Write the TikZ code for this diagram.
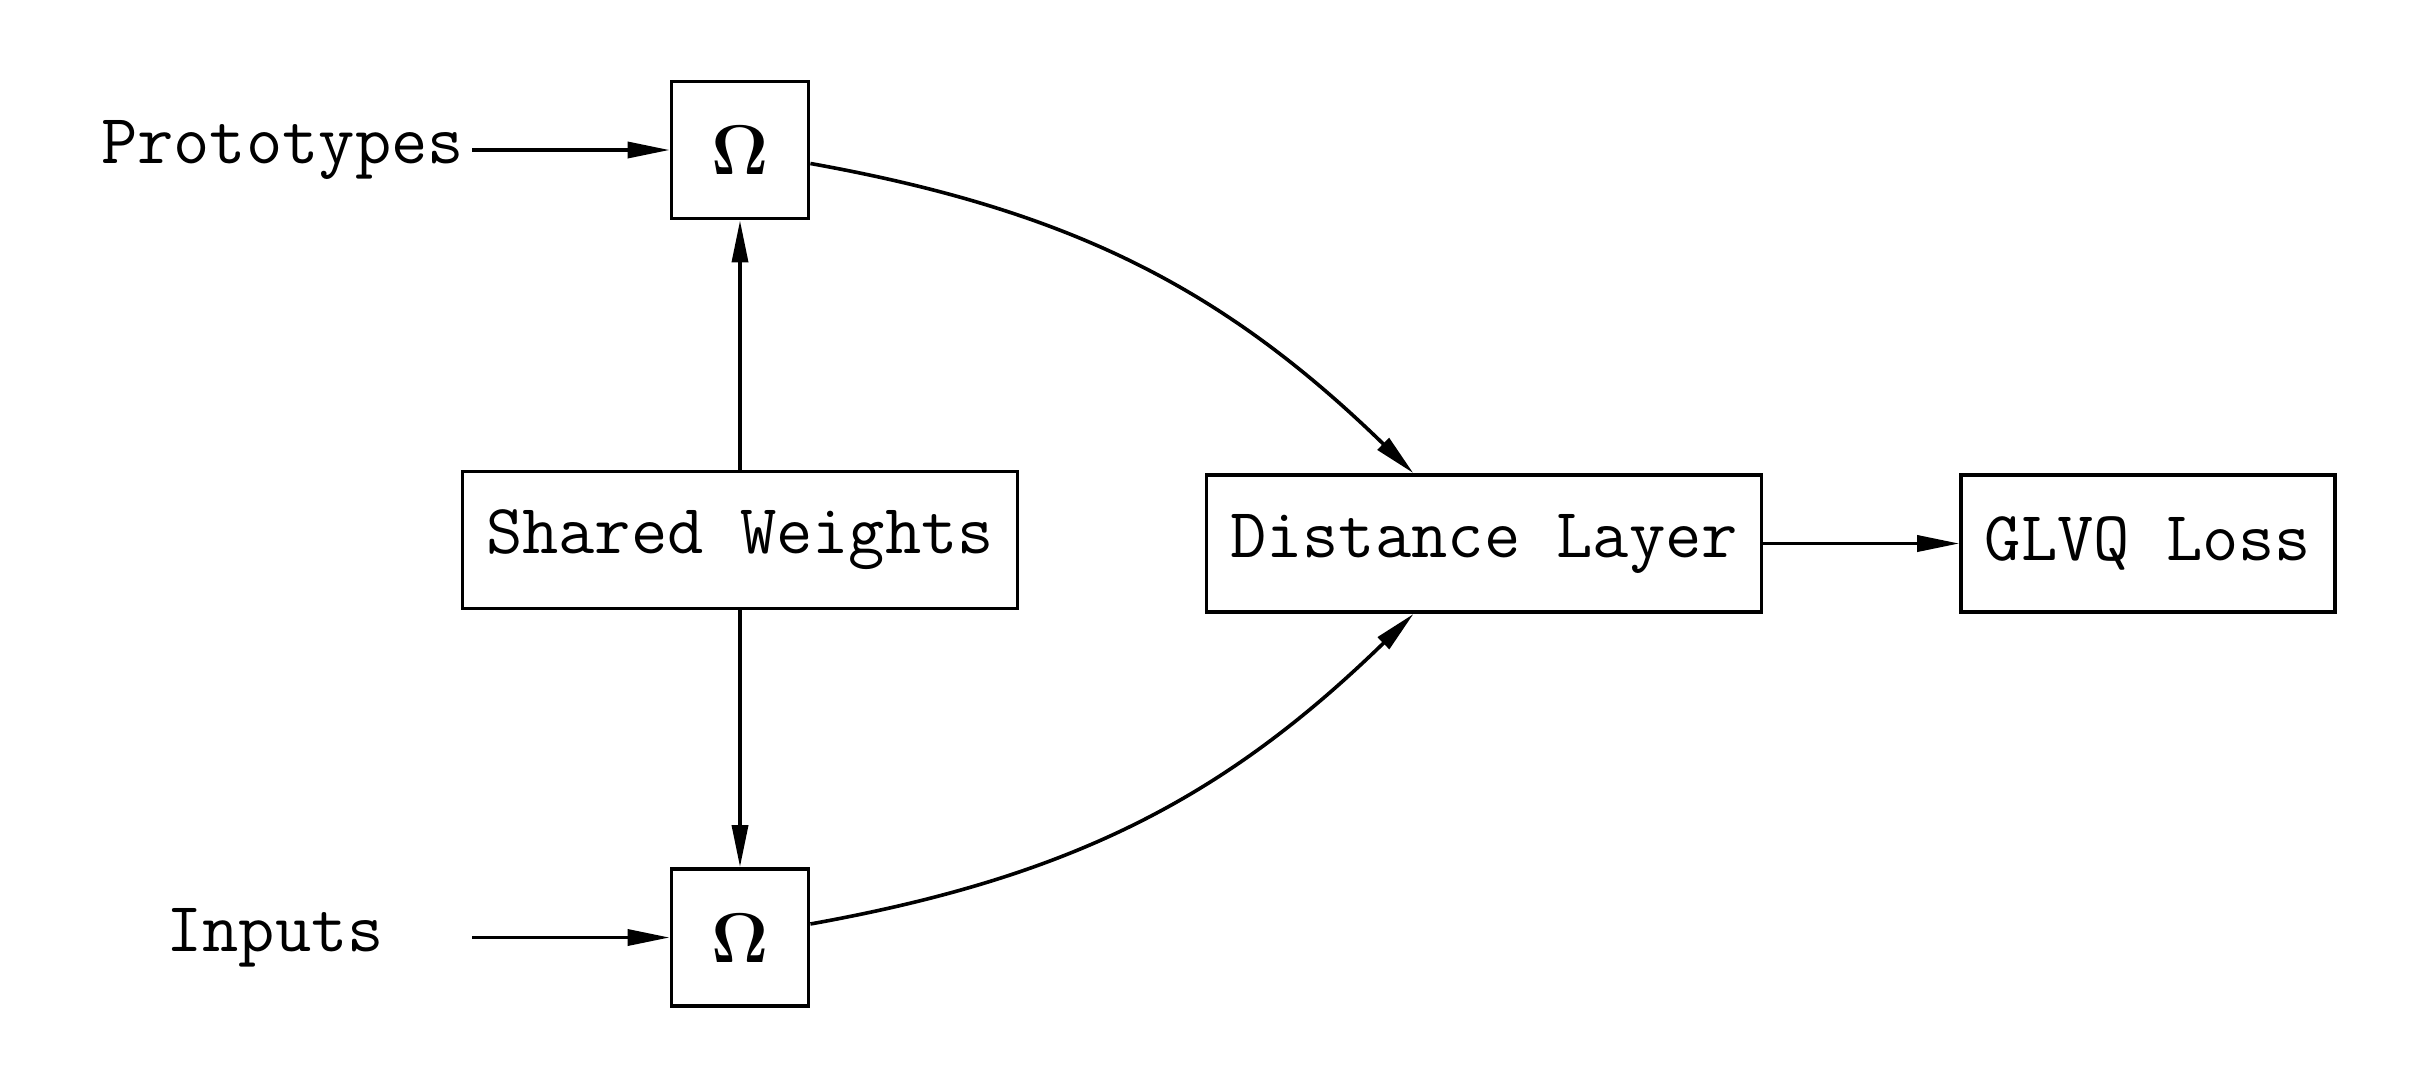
\documentclass[tikz,border=0pt]{standalone}
\usetikzlibrary{arrows.meta}
\begin{document}
\begin{tikzpicture}[x=0.01cm,y=-0.01cm,
  txt/.style={font=\fontsize{20.03}{24}\selectfont\ttfamily},
  box/.style={txt, draw, line width=0.038cm, minimum height=1.37cm, inner xsep=0.236cm, inner ysep=0.1cm},
  ombox/.style={box, minimum width=1.37cm, inner sep=0pt},
  arr/.style={line width=0.036cm, -{Triangle[length=0.42cm,width=0.16cm]}}]
\useasboundingbox (0,0) rectangle (2415,1087);
% nodes
\node[txt] (proto) at (282.5,150.5) {Prototypes};
\node[txt] (inputs) at (275,937.5) {Inputs};
\node[ombox] (om1) at (740,150) {\rmfamily\bfseries Ω};
\node[box] (sw) at (740,540) {Shared Weights};
\node[ombox] (om2) at (740,937.5) {\rmfamily\bfseries Ω};
\node[box] (dist) at (1484,543.5) {Distance Layer};
\node[box] (glvq) at (2148,543.5) {GLVQ Loss};
\coordinate (s1) at (472,150);
\coordinate (s2) at (472,937.5);
% connectors
\draw[arr] (s1) -- (om1);
\draw[arr] (s2) -- (om2);
\draw[arr] (sw) -- (om1);
\draw[arr] (sw) -- (om2);
\draw[arr] (om1) to[bend left=17] (dist);
\draw[arr] (om2) to[bend right=17] (dist);
\draw[arr] (dist) -- (glvq);
\end{tikzpicture}
\end{document}
